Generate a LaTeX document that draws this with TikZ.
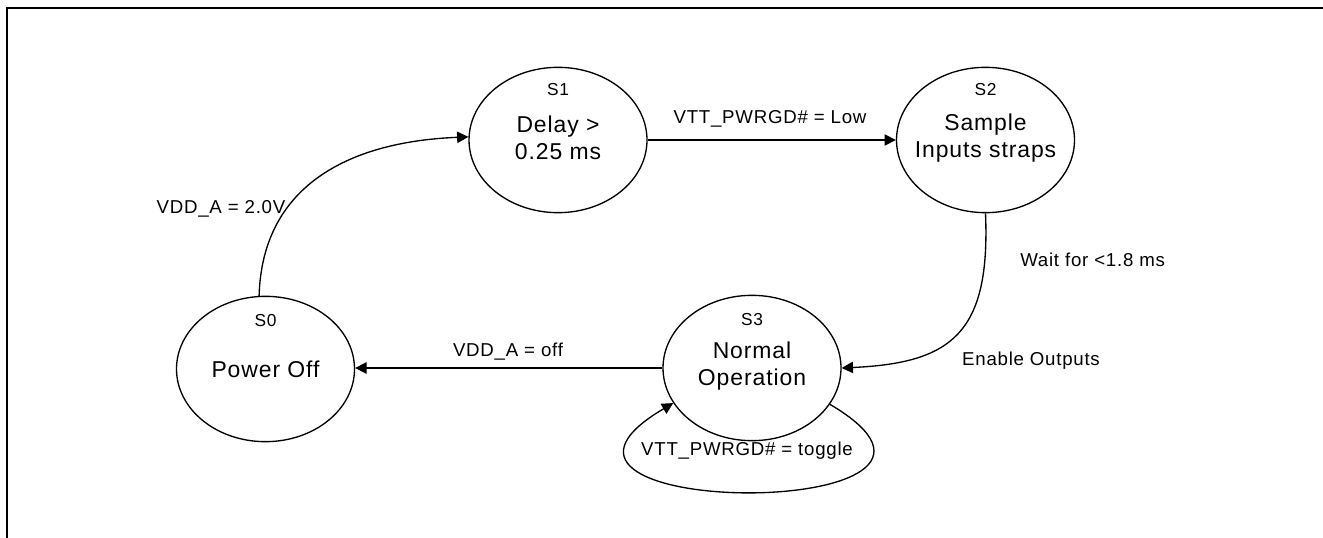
\documentclass[tikz,border=0pt]{standalone}
\usepackage{fontspec}
\setmainfont{Liberation Sans}[LetterSpace=4]
\usetikzlibrary{shapes.geometric,arrows.meta}
\begin{document}
\begin{tikzpicture}[x=0.75pt,y=0.75pt,
  statebox/.style={draw,ellipse,line width=1pt,minimum width=133.5pt,minimum height=109pt,inner sep=0pt},
  maintext/.style={align=center,inner sep=0pt,font=\fontsize{17.2}{20.25}\selectfont},
  slabel/.style={inner sep=0pt,font=\fontsize{13}{15}\selectfont},
  elabel/.style={inner sep=0pt,font=\fontsize{14}{17}\selectfont},
  conn/.style={line width=1pt,-{Triangle[length=8.5pt,width=8.5pt]}},
  framebar/.style={fill=black,draw=none}]
\useasboundingbox (0,0) rectangle (1323,-538);
% frame (top and left edges only)
\coordinate (fTLo) at (5.8,-6.6);
\coordinate (fTRi) at (1323,-9);
\coordinate (fBLi) at (8.2,-538);
\fill[framebar] (fTLo) rectangle (fTRi);
\fill[framebar] (fTLo) rectangle (fBLi);
% states
\node[statebox] (s0) at (265.5,-369) {};
\node[statebox] (s1) at (558,-140) {};
\node[statebox] (s2) at (985.5,-140) {};
\node[statebox] (s3) at (752,-368) {};
% state texts
\node[maintext] (t0) at ([yshift=0pt]s0.center) {Power Off};
\node[maintext] (t1) at ([yshift=1.5pt]s1.center) {Delay >\\0.25 ms};
\node[maintext] (t2) at ([yshift=1.5pt]s2.center) {Sample\\Inputs straps};
\node[maintext] (t3) at ([yshift=1.5pt]s3.center) {Normal\\Operation};
\node[slabel] (l0) at ([yshift=36.5pt]s0.center) {S0};
\node[slabel] (l1) at ([yshift=37.5pt]s1.center) {S1};
\node[slabel] (l2) at ([yshift=37.5pt]s2.center) {S2};
\node[slabel] (l3) at ([yshift=36pt]s3.center) {S3};
% connectors
\draw[conn] (s0.95) .. controls +(3,107) and +(-124,-5) .. (s1.178);
\draw[conn] (s1.east) -- (s2.west);
\draw[conn] (s2.south) .. controls +(5,-120) and +(110,5) .. (s3.east);
\draw[conn] (s3.west) -- (s3.west -| s0.east);
\draw[conn] (s3.-25) .. controls +(200,-118) and +(-200,-118) .. (s3.-156);
% edge labels
\node[elabel] (e01) at (221,-209) {VDD\_A = 2.0V};
\node[elabel] (e12) at (770,-119) {VTT\_PWRGD\# = Low};
\node[elabel,anchor=west] (e23a) at (1020,-260) {Wait for <1.8 ms};
\node[elabel] (e23b) at (1031,-361) {Enable Outputs};
\node[elabel] (e30) at (508,-352) {VDD\_A = off};
\node[elabel] (e33) at (747,-451) {VTT\_PWRGD\# = toggle};
\end{tikzpicture}
\end{document}
